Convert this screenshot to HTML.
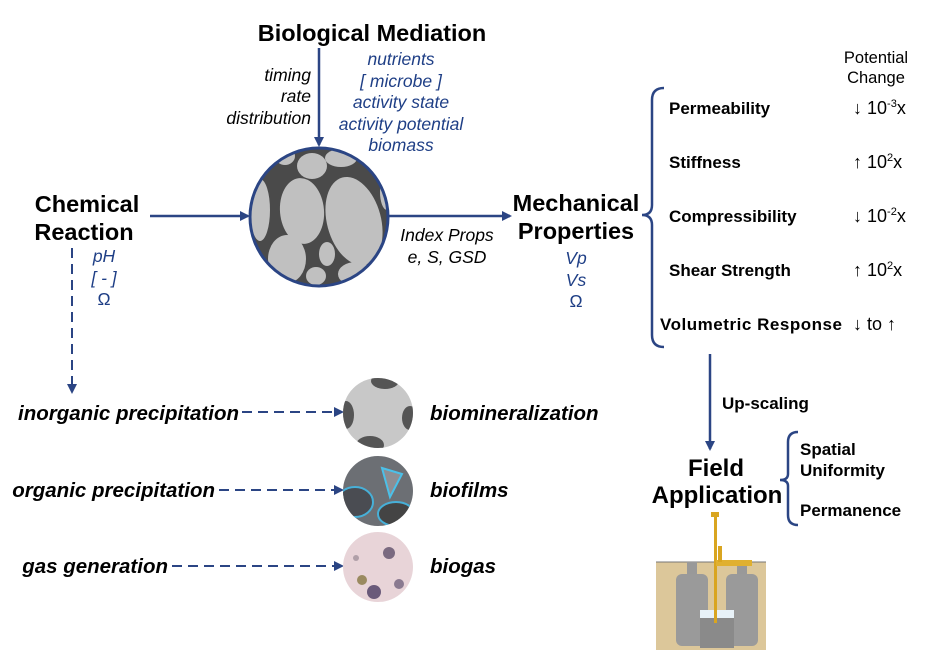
<!DOCTYPE html>
<html><head><meta charset="utf-8"><style>
html,body{margin:0;padding:0;background:#fff;}
svg{display:block;font-family:"Liberation Sans",Arial,sans-serif;}
.h{font-weight:bold;font-size:23.5px;fill:#000;}
.b{font-weight:bold;font-size:17px;fill:#000;}
.bl{font-style:italic;font-size:17.5px;fill:#1f3f86;}
.k{font-style:italic;font-size:17.5px;fill:#000;}
.bi{font-weight:bold;font-style:italic;font-size:20.5px;fill:#000;}
.ln{stroke:#2b4584;stroke-width:2.5;fill:none;}
.ds{stroke:#2b4584;stroke-width:2;fill:none;stroke-dasharray:10,6;}
</style></head><body>
<svg width="936" height="666" viewBox="0 0 936 666">
<defs>
<marker id="ah" markerWidth="10" markerHeight="10" refX="8" refY="5" orient="auto" markerUnits="userSpaceOnUse"><path d="M0,0 L10,5 L0,10 z" fill="#2b4584"/></marker>
<clipPath id="c1"><circle cx="319" cy="217" r="69"/></clipPath>
<clipPath id="s1"><circle cx="378" cy="413" r="35"/></clipPath>
<clipPath id="s2"><circle cx="378" cy="491" r="35"/></clipPath>
<clipPath id="s3"><circle cx="378" cy="567" r="35"/></clipPath>
</defs>

<text class="h" x="372" y="41" text-anchor="middle">Biological Mediation</text>
<line class="ln" x1="319" y1="48" x2="319" y2="145" marker-end="url(#ah)"/>
<g>
<text class="k" x="311" y="81" text-anchor="end">timing</text>
<text class="k" x="311" y="102" text-anchor="end">rate</text>
<text class="k" x="311" y="124" text-anchor="end">distribution</text>
</g>
<g text-anchor="middle">
<text class="bl" x="401" y="65">nutrients</text>
<text class="bl" x="401" y="87">[ microbe ]</text>
<text class="bl" x="401" y="108">activity state</text>
<text class="bl" x="401" y="130">activity potential</text>
<text class="bl" x="401" y="151">biomass</text>
</g>

<g>
<g clip-path="url(#c1)">
<rect x="240" y="140" width="160" height="160" fill="#4a4a4a"/>
<ellipse cx="354" cy="221" rx="27" ry="45" fill="#c0c0c0" transform="rotate(-15 354 221)"/>
<ellipse cx="302" cy="211" rx="22" ry="33" fill="#c0c0c0" transform="rotate(-5 302 211)"/>
<ellipse cx="287" cy="259" rx="19" ry="24" fill="#c0c0c0"/>
<ellipse cx="312" cy="166" rx="15" ry="13" fill="#c0c0c0"/>
<ellipse cx="341" cy="158" rx="16" ry="9" fill="#c0c0c0"/>
<ellipse cx="260" cy="210" rx="10" ry="31" fill="#c0c0c0"/>
<ellipse cx="327" cy="254" rx="8" ry="12" fill="#c0c0c0"/>
<ellipse cx="316" cy="276" rx="10" ry="9" fill="#c0c0c0"/>
<ellipse cx="356" cy="274" rx="18" ry="12" fill="#c0c0c0"/>
<ellipse cx="387" cy="192" rx="7" ry="18" fill="#c0c0c0"/>
<ellipse cx="285" cy="156" rx="10" ry="9" fill="#c0c0c0"/>
</g>
<circle cx="319" cy="217" r="69" fill="none" stroke="#2b4584" stroke-width="3"/>
</g>

<g text-anchor="middle">
<text class="h" x="87" y="212">Chemical</text>
<text class="h" x="84" y="240">Reaction</text>
</g>
<line class="ln" x1="150" y1="216" x2="248" y2="216" marker-end="url(#ah)"/>
<g text-anchor="middle">
<text class="bl" x="104" y="262">pH</text>
<text class="bl" x="104" y="284">[ - ]</text>
<text class="bl" x="104" y="305" style="font-style:normal">Ω</text>
</g>
<line class="ds" x1="72" y1="248" x2="72" y2="392" marker-end="url(#ah)"/>

<line class="ln" x1="389" y1="216" x2="510" y2="216" marker-end="url(#ah)"/>
<g text-anchor="middle">
<text class="k" x="447" y="241">Index Props</text>
<text class="k" x="447" y="263">e, S, GSD</text>
</g>
<g text-anchor="middle">
<text class="h" x="576" y="211">Mechanical</text>
<text class="h" x="576" y="239">Properties</text>
</g>
<g text-anchor="middle">
<text class="bl" x="576" y="264">Vp</text>
<text class="bl" x="576" y="286">Vs</text>
<text class="bl" x="576" y="307" style="font-style:normal">Ω</text>
</g>

<path class="ln" d="M664,88 Q652,88 652,100 L652,205 Q652,215 642,215 Q652,215 652,225 L652,335 Q652,347 664,347"/>
<g text-anchor="middle">
<text x="876" y="63" font-size="16.5">Potential</text>
<text x="876" y="83" font-size="16.5">Change</text>
</g>
<g>
<text class="b" x="669" y="114">Permeability</text>
<text class="b" x="669" y="168">Stiffness</text>
<text class="b" x="669" y="222">Compressibility</text>
<text class="b" x="669" y="276">Shear Strength</text>
<text class="b" x="660" y="330" textLength="182">Volumetric Response</text>
</g>
<g font-size="18">
<text x="853" y="114">↓ 10<tspan font-size="11" dy="-7">-3</tspan><tspan dy="7">x</tspan></text>
<text x="853" y="168">↑ 10<tspan font-size="11" dy="-7">2</tspan><tspan dy="7">x</tspan></text>
<text x="853" y="222">↓ 10<tspan font-size="11" dy="-7">-2</tspan><tspan dy="7">x</tspan></text>
<text x="853" y="276">↑ 10<tspan font-size="11" dy="-7">2</tspan><tspan dy="7">x</tspan></text>
<text x="853" y="330">↓ to ↑</text>
</g>

<line class="ln" x1="710" y1="354" x2="710" y2="449" marker-end="url(#ah)"/>
<text class="b" x="722" y="409">Up-scaling</text>
<g text-anchor="middle">
<text class="h" x="716" y="476" style="font-size:24px">Field</text>
<text class="h" x="717" y="503" style="font-size:24px">Application</text>
</g>
<path class="ln" d="M798,432 Q788,432 788,442 L788,474 Q788,480 780,480 Q788,480 788,486 L788,515 Q788,525 798,525"/>
<g>
<text class="b" x="800" y="455">Spatial</text>
<text class="b" x="800" y="476">Uniformity</text>
<text class="b" x="800" y="516">Permanence</text>
</g>

<g>
<rect x="656" y="562" width="110" height="88" fill="#dcc79a"/>
<line x1="656" y1="562" x2="766" y2="562" stroke="#777" stroke-width="1"/>
<rect x="687" y="562" width="10" height="14" fill="#999"/>
<rect x="737" y="562" width="10" height="14" fill="#999"/>
<rect x="676" y="574" width="32" height="72" rx="6" fill="#9a9a9a"/>
<rect x="726" y="574" width="32" height="72" rx="6" fill="#9a9a9a"/>
<rect x="700" y="614" width="34" height="34" fill="#8a8a8a"/>
<rect x="700" y="610" width="34" height="8" fill="#e8f2f8"/>
<rect x="714" y="513" width="3" height="110" fill="#d9a520"/>
<rect x="711" y="512" width="8" height="5" fill="#d9a520"/>
<rect x="716" y="560" width="36" height="6" fill="#e0b030"/>
<rect x="718" y="546" width="4" height="16" fill="#d9a520"/>
</g>

<g>
<text class="bi" x="239" y="420" text-anchor="end">inorganic precipitation</text>
<line class="ds" x1="242" y1="412" x2="342" y2="412" marker-end="url(#ah)"/>
<g clip-path="url(#s1)">
<rect x="343" y="378" width="70" height="70" fill="#c8c8c8"/>
<ellipse cx="346" cy="415" rx="8" ry="14" fill="#555"/>
<ellipse cx="385" cy="381" rx="14" ry="8" fill="#555"/>
<ellipse cx="370" cy="445" rx="14" ry="9" fill="#555"/>
<ellipse cx="410" cy="418" rx="8" ry="12" fill="#555"/>
</g>
<text class="bi" x="430" y="420">biomineralization</text>
</g>
<g>
<text class="bi" x="215" y="497" text-anchor="end">organic precipitation</text>
<line class="ds" x1="219" y1="490" x2="342" y2="490" marker-end="url(#ah)"/>
<g clip-path="url(#s2)">
<rect x="343" y="456" width="70" height="70" fill="#6c6f74"/>
<ellipse cx="355" cy="502" rx="18" ry="15" fill="#4a4c52" stroke="#47b0d8" stroke-width="2"/>
<path d="M382,468 L402,474 L390,497 Z" fill="#8e8e93" stroke="#4bc0e8" stroke-width="2"/>
<ellipse cx="396" cy="514" rx="18" ry="12" fill="#444" stroke="#47b0d8" stroke-width="2"/>
</g>
<text class="bi" x="430" y="497">biofilms</text>
</g>
<g>
<text class="bi" x="168" y="573" text-anchor="end">gas generation</text>
<line class="ds" x1="172" y1="566" x2="342" y2="566" marker-end="url(#ah)"/>
<g clip-path="url(#s3)">
<rect x="343" y="532" width="70" height="70" fill="#e8d4d8"/>
<circle cx="362" cy="580" r="5" fill="#9a8a60"/>
<circle cx="389" cy="553" r="6" fill="#7a6a80"/>
<circle cx="374" cy="592" r="7" fill="#6a5a7a"/>
<circle cx="399" cy="584" r="5" fill="#8a7a90"/>
<circle cx="356" cy="558" r="3" fill="#b0a0a8"/>
</g>
<text class="bi" x="430" y="573">biogas</text>
</g>
</svg>
</body></html>
